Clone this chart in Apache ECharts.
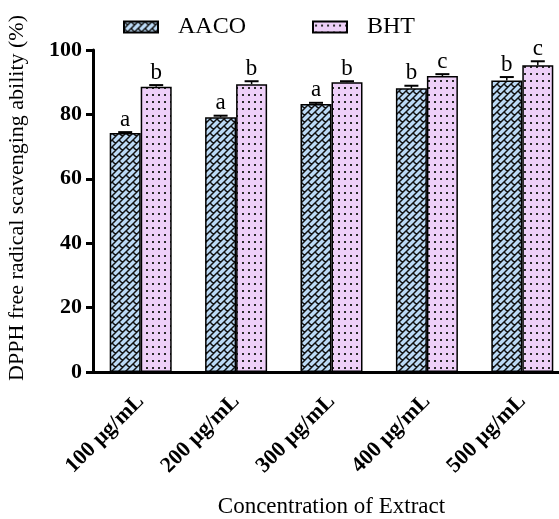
<!DOCTYPE html>
<html><head><meta charset="utf-8">
<script src="https://cdn.jsdelivr.net/npm/echarts@6/dist/echarts.min.js"></script>
<style>html,body{margin:0;padding:0;background:#fff;overflow:hidden;width:559px;height:519px}#c{width:580px;height:519px}</style>
</head><body><div id="c"></div>
<script>
const categories = ['100 μg/mL','200 μg/mL','300 μg/mL','400 μg/mL','500 μg/mL'];
const aacoValues = [74.2, 79.1, 83.2, 88.1, 90.5];
const aacoErrors = [0.3, 0.5, 0.4, 0.8, 1.1];
const aacoLetters = ['a','a','a','b','b'];
const bhtValues = [88.6, 89.4, 90.0, 91.9, 95.3];
const bhtErrors = [0.5, 0.9, 0.3, 0.6, 1.2];
const bhtLetters = ['b','b','b','c','c'];
const yTicks = [0, 20, 40, 60, 80, 100];
const yTitle = 'DPPH free radical scavenging ability (%)';
const xTitle = 'Concentration of Extract';

const FONT = '"Liberation Serif","Times New Roman",serif';

function hatchPattern(){
  const s = 7, c = document.createElement('canvas');
  c.width = s; c.height = s;
  const g = c.getContext('2d');
  g.fillStyle = '#bcdaf6'; g.fillRect(0,0,s,s);
  g.strokeStyle = '#111'; g.lineWidth = 1.5;
  g.beginPath();
  for (let k=0;k<=2;k++){ g.moveTo(-1, k*s+1); g.lineTo(k*s+1, -1); }
  for (let i=-1;i<=1;i++) for (let j=-1;j<=1;j++){
    g.moveTo(i*s, j*s); g.lineTo(i*s+s/2, j*s+s/2);
  }
  g.stroke();
  return c;
}
function dotPattern(){
  const c = document.createElement('canvas');
  c.width = 6; c.height = 7;
  const g = c.getContext('2d');
  g.fillStyle = '#eed0f8'; g.fillRect(0,0,6,7);
  g.fillStyle = '#2a2a2a';
  g.fillRect(2,3,2,2);
  return c;
}
const hatch = {image: hatchPattern(), repeat: 'repeat'};
const dots = {image: dotPattern(), repeat: 'repeat'};
const BW = 31;

function errSeries(vals, errs, letters, offset){
  return {
    type: 'custom',
    data: vals.map((v,i)=>[i, v, errs[i]]),
    z: 5,
    silent: true,
    renderItem: function(params, api){
      const i = api.value(0), v = api.value(1), e = api.value(2);
      const top = api.coord([i, v + e]);
      const mid = api.coord([i, v]);
      const x = top[0] + offset;
      return {type:'group', children:[
        {type:'line', shape:{x1:x, y1:top[1], x2:x, y2:mid[1]}, style:{stroke:'#000', lineWidth:1.5}},
        {type:'line', shape:{x1:x-7, y1:top[1], x2:x+7, y2:top[1]}, style:{stroke:'#000', lineWidth:2}},
        {type:'text', style:{text: letters[i], x:x, y:top[1]-1, textAlign:'center', textVerticalAlign:'bottom', font:'23px '+FONT, fill:'#000'}}
      ]};
    }
  };
}

const chart = echarts.init(document.getElementById('c'));
chart.setOption({
  animation: false,
  legend: {
    top: 15, left: 123, padding: 0, itemWidth: 34, itemHeight: 11, itemGap: 66, icon: 'rect',
    textStyle: {fontFamily: FONT, fontSize: 24, color: '#000', padding: [0,0,0,15]},
    data: ['AACO','BHT']
  },
  graphic: [{
    type: 'text', x: 17, y: 198, rotation: Math.PI/2,
    style: {text: yTitle, font: '22px '+FONT, fill: '#000', textAlign: 'center', textVerticalAlign: 'middle'}
  }],
  grid: {left: 93, top: 50, width: 477, height: 322, containLabel: false, outerBoundsMode: 'none'},
  xAxis: {
    type: 'category', data: categories,
    axisLine: {lineStyle: {color:'#000', width: 3}},
    axisTick: {alignWithLabel: true, length: 9, lineStyle: {width: 3, color:'#000'}},
    axisLabel: {rotate: 45, fontFamily: FONT, fontWeight: 'bold', fontSize: 22, color: '#000', margin: 26},
    name: xTitle, nameLocation: 'middle', nameGap: 123,
    nameTextStyle: {fontFamily: FONT, fontSize: 23, color:'#000'}
  },
  yAxis: {
    type: 'value', min: 0, max: 100, interval: 20,
    axisLine: {show: true, lineStyle: {color:'#000', width: 3}},
    axisTick: {show: true, length: 7, lineStyle: {width: 3, color:'#000'}},
    splitLine: {show: false},
    axisLabel: {fontFamily: FONT, fontWeight: 'bold', fontSize: 22, color:'#000', margin: 11,
      formatter: v => yTicks.includes(v) ? String(v) : ''}
  },
  series: [
    {name:'AACO', type:'bar', data: aacoValues, barWidth: BW, barGap: '0%',
      itemStyle: {color: hatch, borderColor:'#000', borderWidth: 1.5}},
    {name:'BHT', type:'bar', data: bhtValues, barWidth: BW, barGap: '0%',
      itemStyle: {color: dots, borderColor:'#000', borderWidth: 1.5}},
    errSeries(aacoValues, aacoErrors, aacoLetters, -BW/2),
    errSeries(bhtValues, bhtErrors, bhtLetters, BW/2)
  ]
});
</script></body></html>
